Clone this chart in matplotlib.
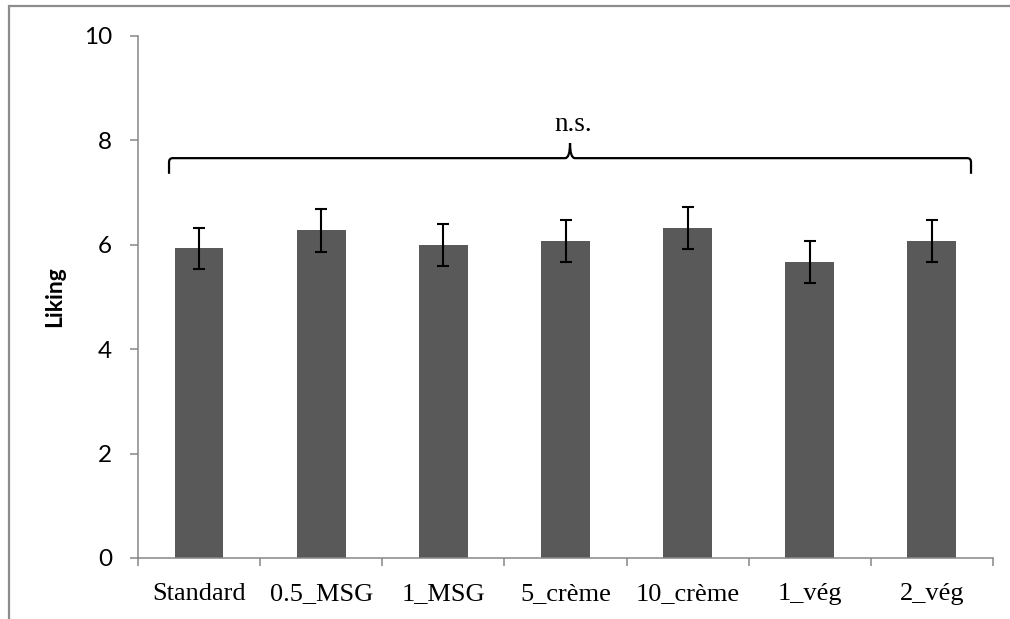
import matplotlib.pyplot as plt
from matplotlib.path import Path
from matplotlib.patches import PathPatch, Rectangle
import numpy as np

# data
samples = ['Standard', '0.5_MSG', '1_MSG', '5_crème', '10_crème', '1_vég', '2_vég']
liking = [5.93, 6.28, 6.00, 6.07, 6.32, 5.67, 6.08]
liking_err = [0.40, 0.41, 0.40, 0.40, 0.40, 0.40, 0.40]

fig = plt.figure(figsize=(10.1, 6.19), dpi=100)
ax = fig.add_axes([138/1010, 1 - 558/619, (993 - 138)/1010, (558 - 36)/619])

# outer chart frame (excel style)
fig.patches.append(Rectangle((9/1010, -0.2), 1.2, 1.2 - 6/619, transform=fig.transFigure,
                             fill=False, edgecolor='#8c8c8c', linewidth=1.6))

x = np.arange(len(samples))
ax.bar(x, liking, width=0.4, color='#595959', zorder=2)
ax.errorbar(x, liking, yerr=liking_err, fmt='none', ecolor='black',
            elinewidth=1.5, capsize=4.3, capthick=1.5, zorder=3)

ax.set_xlim(-0.5, len(samples) - 0.5)
ax.set_ylim(0, 10)
ax.set_yticks([0, 2, 4, 6, 8, 10])

# category boundaries as major ticks, names as minor ticks
ax.set_xticks(np.arange(-0.5, len(samples), 1.0))
ax.set_xticklabels([])
ax.set_xticks(x, minor=True)
ax.set_xticklabels(samples, minor=True, fontfamily='Liberation Serif', fontsize=19)
ax.tick_params(axis='x', which='minor', length=0, pad=18)
ax.tick_params(axis='x', which='major', length=5.5, width=1.1, color='#868686', direction='out')
ax.tick_params(axis='y', length=5.8, width=1.1, color='#868686', pad=13, labelsize=17.5)
for lab in ax.get_yticklabels():
    lab.set_fontfamily('Lato')

for s in ['top', 'right']:
    ax.spines[s].set_visible(False)
for s in ['left', 'bottom']:
    ax.spines[s].set_color('#868686')
    ax.spines[s].set_linewidth(1.1)

ax.set_ylabel('Liking', fontfamily='Lato', fontweight='bold', fontsize=16.5, labelpad=13)

# brace over all samples with n.s.
x0, x1 = -0.246, 6.32
xc = (x0 + x1) / 2
yb, yl, yt = 7.36, 7.66, 7.95
dx, dy = 0.03, 0.08
verts = [(x0, yb), (x0, yl - dy), (x0, yl), (x0 + dx, yl),
         (xc - 0.04, yl), (xc, yl), (xc, yt), (xc, yl), (xc + 0.04, yl),
         (x1 - dx, yl), (x1, yl), (x1, yl - dy), (x1, yb)]
codes = [Path.MOVETO, Path.LINETO, Path.CURVE3, Path.CURVE3,
         Path.LINETO, Path.CURVE3, Path.CURVE3, Path.CURVE3, Path.CURVE3,
         Path.LINETO, Path.CURVE3, Path.CURVE3, Path.LINETO]
ax.add_patch(PathPatch(Path(verts, codes), fill=False, edgecolor='black', linewidth=1.6, zorder=4))
ax.text(xc + 0.03, 8.3, 'n.s.', ha='center', va='center', fontfamily='Liberation Serif', fontsize=19.5)

fig.savefig('out.png', dpi=100)
